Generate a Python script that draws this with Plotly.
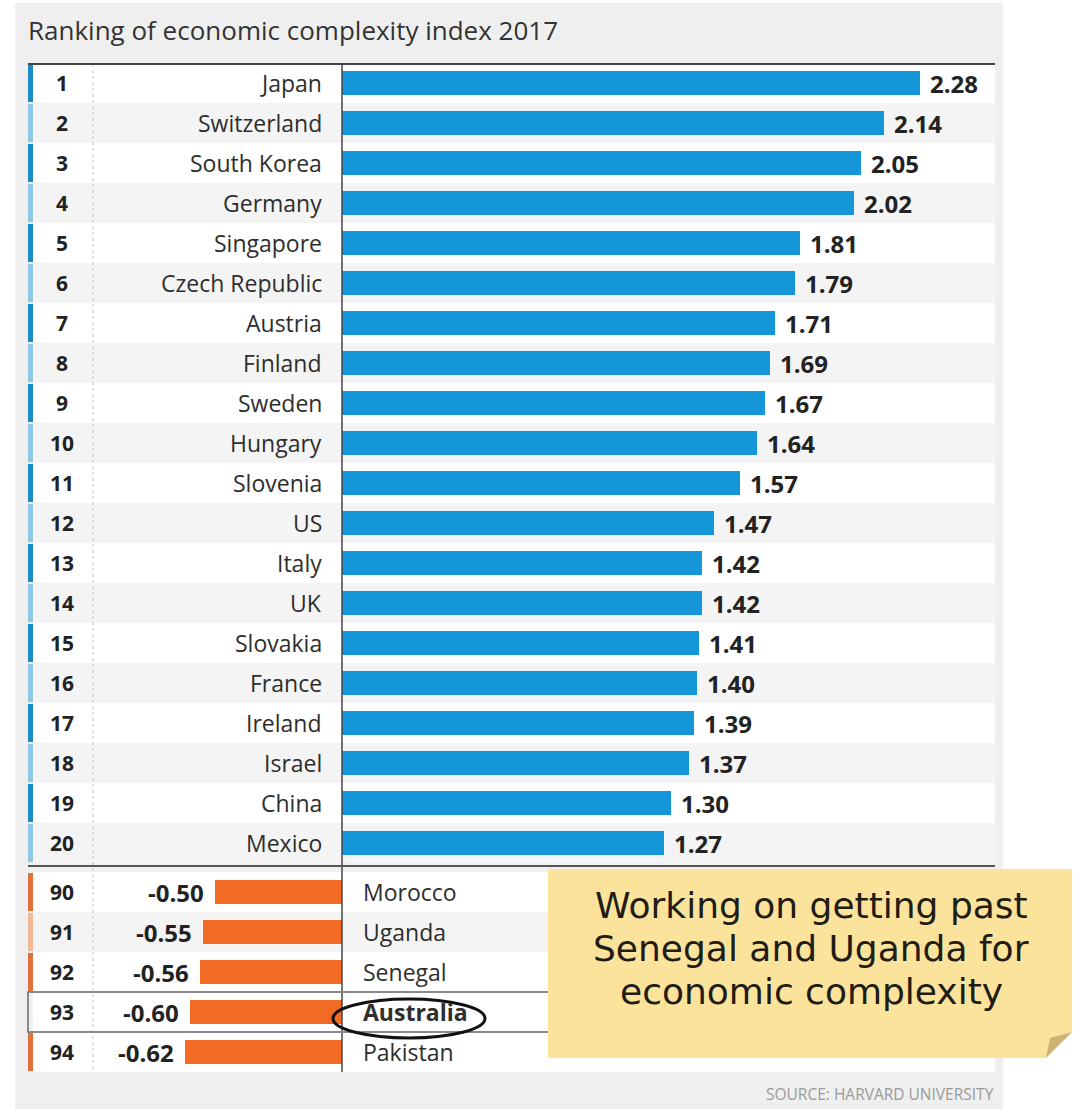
import plotly.graph_objects as go

# ---- data ----
top_ranks = list(range(1, 21))
top_countries = ["Japan", "Switzerland", "South Korea", "Germany", "Singapore",
                 "Czech Republic", "Austria", "Finland", "Sweden", "Hungary",
                 "Slovenia", "US", "Italy", "UK", "Slovakia", "France",
                 "Ireland", "Israel", "China", "Mexico"]
top_values = [2.28, 2.14, 2.05, 2.02, 1.81, 1.79, 1.71, 1.69, 1.67, 1.64,
              1.57, 1.47, 1.42, 1.42, 1.41, 1.40, 1.39, 1.37, 1.30, 1.27]

bottom_ranks = [90, 91, 92, 93, 94]
bottom_countries = ["Morocco", "Uganda", "Senegal", "Australia", "Pakistan"]
bottom_values = [-0.50, -0.55, -0.56, -0.60, -0.62]

title_text = "Ranking of economic complexity index 2017"
note_lines = ["Working on getting past", "Senegal and Uganda for", "economic complexity"]
source_text = "SOURCE: HARVARD UNIVERSITY"

# ---- geometry ----
W, H = 1079, 1109
ZERO_PX = 342          # pixel column of the zero line
PX_PER_UNIT = 253.3    # horizontal scale
ROW_PX = 40            # row pitch
FIRST_ROW_PX = 83      # centre of first row
BOTTOM_GAP = 0.225     # extra gap (in rows) before the bottom block

BLUE = "#1496d9"
ORANGE = "#f26a24"
FONT = "Open Sans"


def fx(px):
    return px / W


def fy(py):
    return 1 - py / H


top_pos = [i for i in range(len(top_values))]
bottom_pos = [len(top_values) + BOTTOM_GAP + j for j in range(len(bottom_values))]


def row_px(pos):
    return FIRST_ROW_PX + pos * ROW_PX


fig = go.Figure()

fig.add_trace(go.Bar(
    x=top_values, y=top_pos, orientation="h", base=0,
    marker=dict(color=BLUE, line=dict(width=0)), width=0.58,
    hoverinfo="skip", showlegend=False,
))
fig.add_trace(go.Bar(
    x=bottom_values, y=bottom_pos, orientation="h", base=0,
    marker=dict(color=ORANGE, line=dict(width=0)), width=0.58,
    hoverinfo="skip", showlegend=False,
))

shapes = []
# page background panel
shapes.append(dict(type="rect", xref="paper", yref="paper", layer="below",
                   x0=fx(15), x1=fx(1003), y0=fy(1109), y1=fy(3),
                   fillcolor="#efefef", line=dict(width=0)))

# table rows
all_rows = [(p, "top", k) for k, p in enumerate(top_pos)] + \
           [(p, "bottom", k) for k, p in enumerate(bottom_pos)]
for p, block, k in all_rows:
    c = row_px(p)
    fill = "#ffffff" if k % 2 == 0 else "#f4f4f4"
    if block == "bottom" and k >= 3:
        fill = "#ffffff"
    shapes.append(dict(type="rect", xref="paper", yref="paper", layer="below",
                       x0=fx(33), x1=fx(995), y0=fy(c + 20), y1=fy(c - 20),
                       fillcolor=fill, line=dict(width=0)))
    # coloured edge marker
    if block == "top":
        edge = "#1a8cc6" if k % 2 == 0 else "#8fc8e6"
    else:
        edge = "#e0703c" if k % 2 == 0 else "#f4b893"
    if not (block == "bottom" and bottom_countries[k] == "Australia"):
        shapes.append(dict(type="rect", xref="paper", yref="paper", layer="below",
                           x0=fx(28), x1=fx(33), y0=fy(c + 19), y1=fy(c - 19),
                           fillcolor=edge, line=dict(width=0)))

table_top = 64
sep_px = 866
table_bottom = row_px(bottom_pos[-1]) + 20

# dotted divider after rank column
shapes.append(dict(type="line", xref="paper", yref="paper", layer="below",
                   x0=fx(93), x1=fx(93), y0=fy(table_top), y1=fy(table_bottom),
                   line=dict(color="#c4c4c4", width=1, dash="dot")))
# zero line
shapes.append(dict(type="line", xref="paper", yref="paper", layer="above",
                   x0=fx(ZERO_PX), x1=fx(ZERO_PX), y0=fy(table_top), y1=fy(table_bottom),
                   line=dict(color="#444444", width=1.5)))
# top rule and block separator
shapes.append(dict(type="line", xref="paper", yref="paper", layer="above",
                   x0=fx(28), x1=fx(995), y0=fy(table_top), y1=fy(table_top),
                   line=dict(color="#444444", width=2)))
shapes.append(dict(type="line", xref="paper", yref="paper", layer="above",
                   x0=fx(28), x1=fx(995), y0=fy(sep_px), y1=fy(sep_px),
                   line=dict(color="#555555", width=2)))

# highlighted Australia row
aus_c = row_px(bottom_pos[bottom_countries.index("Australia")])
shapes.append(dict(type="rect", xref="paper", yref="paper", layer="above",
                   x0=fx(28), x1=fx(560), y0=fy(aus_c + 20), y1=fy(aus_c - 20),
                   line=dict(color="#8a8a8a", width=2)))
# hand-drawn ring around Australia
shapes.append(dict(type="circle", xref="paper", yref="paper", layer="above",
                   x0=fx(333), x1=fx(485), y0=fy(aus_c + 26), y1=fy(aus_c - 13),
                   line=dict(color="#111111", width=3)))

# sticky note with folded corner
nx0, nx1, ny0, ny1 = 548, 1072, 869, 1058
fold = 26
note_path = (f"M {fx(nx0)} {fy(ny0)} L {fx(nx1)} {fy(ny0)} L {fx(nx1)} {fy(ny1 - fold)} "
             f"L {fx(nx1 - fold)} {fy(ny1)} L {fx(nx0)} {fy(ny1)} Z")
shapes.append(dict(type="path", xref="paper", yref="paper", layer="above",
                   path=note_path, fillcolor="#fce39c", line=dict(width=0)))
fold_path = (f"M {fx(nx1 - fold)} {fy(ny1)} L {fx(nx1)} {fy(ny1 - fold)} "
             f"L {fx(nx1 - fold + 4)} {fy(ny1 - fold + 6)} Z")
shapes.append(dict(type="path", xref="paper", yref="paper", layer="above",
                   path=fold_path, fillcolor="#cdb275", line=dict(width=0)))

annotations = []
annotations.append(dict(xref="paper", yref="paper", x=fx(26), y=fy(30),
                        xanchor="left", yanchor="middle", showarrow=False,
                        text=title_text,
                        font=dict(family=FONT, size=26, color="#333333")))

for k, p in enumerate(top_pos):
    c = row_px(p)
    annotations.append(dict(xref="paper", yref="paper", x=fx(62), y=fy(c),
                            xanchor="center", yanchor="middle", showarrow=False,
                            text=f"<b>{top_ranks[k]}</b>",
                            font=dict(family=FONT, size=21, color="#222222")))
    annotations.append(dict(xref="paper", yref="paper", x=fx(324), y=fy(c),
                            xanchor="right", yanchor="middle", showarrow=False,
                            text=top_countries[k],
                            font=dict(family=FONT, size=23, color="#2e2e2e")))
    annotations.append(dict(xref="x", yref="y", x=top_values[k], y=p,
                            xanchor="left", yanchor="middle", showarrow=False,
                            xshift=8, text=f"<b>{top_values[k]:.2f}</b>",
                            font=dict(family=FONT, size=24, color="#222222")))

for k, p in enumerate(bottom_pos):
    c = row_px(p)
    annotations.append(dict(xref="paper", yref="paper", x=fx(62), y=fy(c),
                            xanchor="center", yanchor="middle", showarrow=False,
                            text=f"<b>{bottom_ranks[k]}</b>",
                            font=dict(family=FONT, size=21, color="#222222")))
    name = bottom_countries[k]
    if name == "Australia":
        name = f"<b>{name}</b>"
    annotations.append(dict(xref="paper", yref="paper", x=fx(361), y=fy(c),
                            xanchor="left", yanchor="middle", showarrow=False,
                            text=name,
                            font=dict(family=FONT, size=23, color="#2e2e2e")))
    annotations.append(dict(xref="x", yref="y", x=bottom_values[k], y=p,
                            xanchor="right", yanchor="middle", showarrow=False,
                            xshift=-9, text=f"<b>{bottom_values[k]:.2f}</b>",
                            font=dict(family=FONT, size=24, color="#222222")))

for i, line in enumerate(note_lines):
    annotations.append(dict(xref="paper", yref="paper", x=fx(811), y=fy(905 + i * 43),
                            xanchor="center", yanchor="middle", showarrow=False,
                            text=line,
                            font=dict(family="DejaVu Sans", size=36, color="#211c14")))

annotations.append(dict(xref="paper", yref="paper", x=fx(996), y=fy(1107),
                        xanchor="right", yanchor="bottom", showarrow=False,
                        text=source_text,
                        font=dict(family="Liberation Sans Narrow, " + FONT, size=15.5, color="#9a9a9a")))

fig.update_layout(
    width=W, height=H,
    margin=dict(l=0, r=0, t=0, b=0, pad=0),
    paper_bgcolor="#ffffff", plot_bgcolor="rgba(0,0,0,0)",
    xaxis=dict(range=[-ZERO_PX / PX_PER_UNIT, (W - ZERO_PX) / PX_PER_UNIT],
               visible=False, fixedrange=True),
    yaxis=dict(range=[(H - FIRST_ROW_PX) / ROW_PX, -FIRST_ROW_PX / ROW_PX],
               visible=False, fixedrange=True),
    bargap=0, shapes=shapes, annotations=annotations,
)

fig.write_html("out.html", config={"displayModeBar": False})
